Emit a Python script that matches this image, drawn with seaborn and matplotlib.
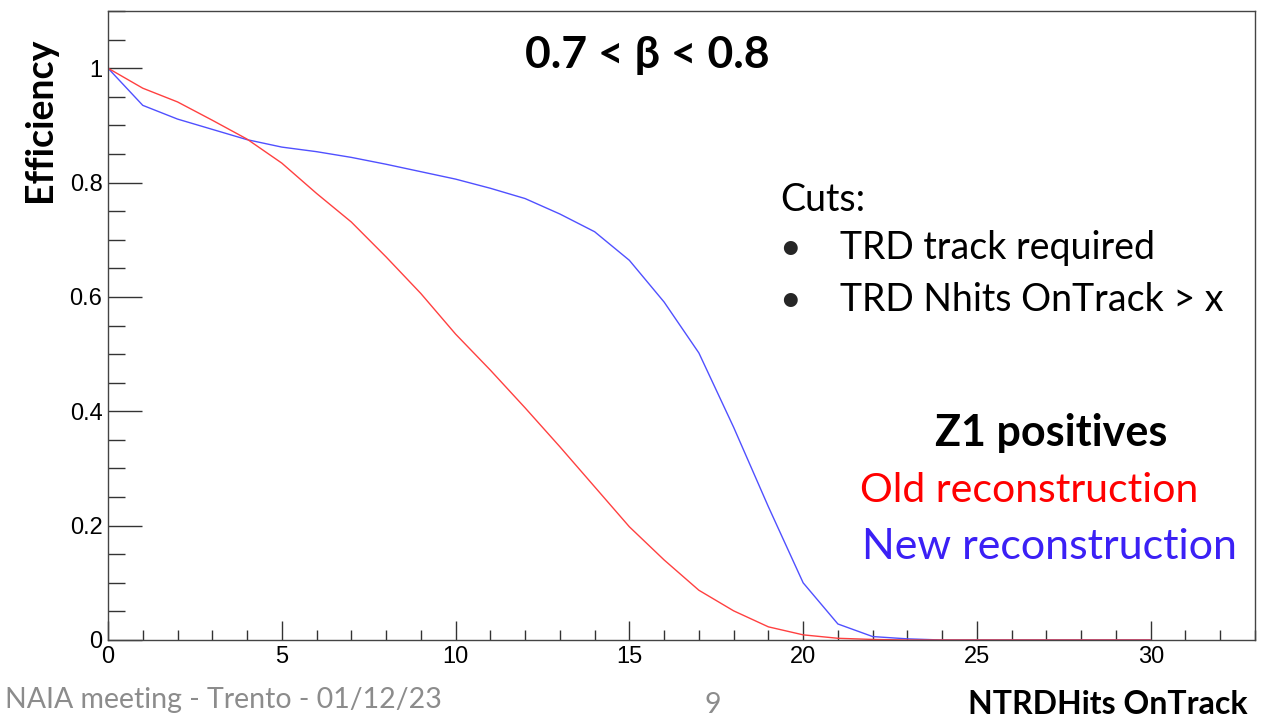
import numpy as np
import pandas as pd
import matplotlib
matplotlib.use("Agg")
import matplotlib.pyplot as plt
import seaborn as sns
from matplotlib.ticker import MultipleLocator

# ---- data ----
n_hits = list(range(0, 31))
old_eff = [1.0, 0.965, 0.941, 0.909, 0.876, 0.834, 0.781, 0.731, 0.670, 0.606,
           0.535, 0.472, 0.406, 0.338, 0.268, 0.198, 0.140, 0.087, 0.051, 0.023,
           0.009, 0.003, 0.001, 0.0, 0.0, 0.0, 0.0, 0.0, 0.0, 0.0, 0.0]
new_eff = [1.0, 0.935, 0.911, 0.893, 0.875, 0.862, 0.854, 0.844, 0.832, 0.819,
           0.806, 0.790, 0.772, 0.745, 0.714, 0.664, 0.591, 0.502, 0.372, 0.233,
           0.100, 0.028, 0.006, 0.002, 0.0, 0.0, 0.0, 0.0, 0.0, 0.0, 0.0]
series_names = ["New reconstruction", "Old reconstruction"]
x_ticks = [0, 5, 10, 15, 20, 25, 30]
y_ticks = [0, 0.2, 0.4, 0.6, 0.8, 1]
y_tick_labels = ["0", "0.2", "0.4", "0.6", "0.8", "1"]

df = pd.DataFrame({
    "x": n_hits + n_hits,
    "eff": new_eff + old_eff,
    "reco": [series_names[0]] * len(n_hits) + [series_names[1]] * len(n_hits),
})

sns.set_style("ticks")
plt.rcParams["font.family"] = ["Lato", "DejaVu Sans"]

fig = plt.figure(figsize=(12.67, 7.2), dpi=100)
ax = fig.add_axes([108 / 1267, 80 / 720, (1255 - 108) / 1267, (640 - 11) / 720])

sns.lineplot(data=df, x="x", y="eff", hue="reco",
             palette={series_names[0]: "#5050ff", series_names[1]: "#ff4040"},
             linewidth=1.0, ax=ax, legend=False, estimator=None)

ax.set_xlim(0, 33)
ax.set_ylim(0, 1.1)
ax.set_xlabel("")
ax.set_ylabel("")
ax.set_xticks(x_ticks)
ax.set_xticklabels([str(t) for t in x_ticks])
ax.set_yticks(y_ticks)
ax.set_yticklabels(y_tick_labels)
ax.xaxis.set_minor_locator(MultipleLocator(1))
ax.yaxis.set_minor_locator(MultipleLocator(0.05))
ax.tick_params(axis="both", which="both", direction="in", colors="#333333",
               labelcolor="black", width=1.0)
ax.tick_params(axis="y", which="major", length=24.5, pad=4)
ax.tick_params(axis="y", which="minor", length=12)
ax.tick_params(axis="x", which="major", length=14, pad=4)
ax.tick_params(axis="x", which="minor", length=7)
for lab in ax.get_xticklabels() + ax.get_yticklabels():
    lab.set_fontfamily(["Liberation Sans", "DejaVu Sans"])
    lab.set_fontsize(17)
for s in ax.spines.values():
    s.set_visible(True)
    s.set_color("#444444")
    s.set_linewidth(1.0)

# texts
fig.text(647 / 1267, 1 - 55 / 720, "0.7 < β < 0.8", ha="center", va="center",
         fontsize=32, fontweight="bold", color="black")
fig.text(780 / 1267, 1 - 200 / 720, "Cuts:", ha="left", va="center",
         fontsize=27, color="black")
fig.text(779 / 1267, 1 - 248 / 720, "•", ha="left", va="center", fontsize=27)
fig.text(840 / 1267, 1 - 248 / 720, "TRD track required", ha="left", va="center",
         fontsize=27, color="black")
fig.text(779 / 1267, 1 - 300 / 720, "•", ha="left", va="center", fontsize=27)
fig.text(840 / 1267, 1 - 300 / 720, "TRD Nhits OnTrack > x", ha="left", va="center",
         fontsize=27, color="black")
fig.text(935 / 1267, 1 - 433 / 720, "Z1 positives", ha="left", va="center",
         fontsize=31, fontweight="bold", color="black")
fig.text(860 / 1267, 1 - 490 / 720, "Old reconstruction", ha="left", va="center",
         fontsize=29.5, color="#ff0000")
fig.text(862 / 1267, 1 - 547 / 720, "New reconstruction", ha="left", va="center",
         fontsize=31, color="#3b20f5")

fig.text(40 / 1267, 1 - 120 / 720, "Efficiency", ha="center", va="center",
         rotation=90, fontsize=27, fontweight="bold", color="black")
fig.text(1248 / 1267, 1 - 705 / 720, "NTRDHits OnTrack", ha="right", va="center",
         fontsize=23, fontweight="bold", color="black")
fig.text(5 / 1267, 1 - 700 / 720, "NAIA meeting - Trento - 01/12/23", ha="left",
         va="center", fontsize=20.5, color="#8c8c8c")
fig.text(713 / 1267, 1 - 705 / 720, "9", ha="center", va="center",
         fontsize=20.5, color="#8c8c8c")

fig.savefig("out.png", dpi=100, facecolor="white")
